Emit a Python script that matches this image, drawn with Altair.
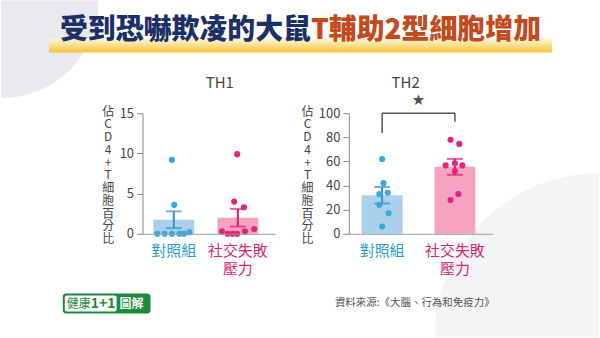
import altair as alt
import pandas as pd

FONT = "Noto Sans CJK TC"

# ---------------- data ----------------
categories = ["對照組", "社交失敗\n壓力"]
panel_titles = ["TH1", "TH2"]
y_title = "佔CD4+T細胞百分比"

th1_ctrl = [9.2, 3.6, 0.0, 0.0, 0.0, 0.0, 0.0, 0.2]
th1_ctrl_dx = [-2, 0.5, -18, -10, -2, 6, 11, 17]
th1_stress = [9.9, 4.0, 3.3, 0.3, 0.0, 0.0, 0.0, 0.3, 0.6]
th1_stress_dx = [-0.7, -4, 6.7, -17.3, -11, -5.7, -0.7, 7.7, 17.7]
th1_mean = [1.75, 2.0]
th1_sem = [1.05, 1.1]
th1_ticks = [0, 5, 10, 15]

th2_ctrl = [62, 42, 33, 34, 24, 17, 6]
th2_ctrl_dx = [0, 1.5, -3, 6, -3, 7, 0]
th2_stress = [78, 74.5, 56.7, 58.4, 56.7, 52, 33, 28]
th2_stress_dx = [-4.7, 4.7, -10, 0, 8, 0, 3.7, -4.7]
th2_mean = [32, 55.5]
th2_sem = [6.8, 6.6]
th2_ticks = [0, 20, 40, 60, 80, 100]

bracket_top = 100
bracket_legs = [83.5, 93]
star_y = 111

title_a = "受到恐嚇欺凌的大鼠"
title_b = "T輔助2型細胞增加"
source_text = "資料來源:《大腦、行為和免疫力》"

# ---------------- styles ----------------
BLUE_DOT = "#3aa8da"
BLUE_BAR = "#a9d1ee"
BLUE_ERR = "#3493c9"
BLUE_TXT = "#2e9bd2"
PINK_DOT = "#e5237b"
PINK_BAR = "#f6a3c1"
PINK_ERR = "#d81f6e"
PINK_TXT = "#d7246f"
GREY = "#454545"
AXIS = "#8a8a8a"
H = 121


def cond(a, b):
    return alt.condition(alt.datum.cat == 0, alt.value(a), alt.value(b))


def make_yax(ticks, ytitle_x):
    return alt.Axis(title=list(y_title), titleAngle=0, titleAlign="center",
                    titleBaseline="top", titleX=ytitle_x, titleY=-7,
                    titleLineHeight=12.8, titleFontSize=12, titleFontWeight="normal",
                    titleColor=GREY, titleFont=FONT, values=ticks, grid=False, zindex=1,
                    tickSize=6, tickColor=AXIS, domainColor=AXIS, labelColor=GREY,
                    labelFontSize=13, labelFont=FONT, labelPadding=3,
                    labelOverlap=False, labelBound=False)


def panel(ctrl, ctrl_dx, stress, stress_dx, means, sems, ymax, ticks,
          width, x0, ppu, title, title_x, ytitle_x):
    xs = alt.Scale(domain=[-x0 / ppu, (width - x0) / ppu], nice=False, zero=False)
    ys = alt.Scale(domain=[0, ymax], nice=False)
    yax = make_yax(ticks, ytitle_x)
    pts = pd.DataFrame({
        "cat": [0] * len(ctrl) + [1] * len(stress),
        "v": ctrl + stress,
        "dx": ctrl_dx + stress_dx,
    })
    pts["xp"] = pts["cat"] + pts["dx"] / ppu
    summ = pd.DataFrame({
        "cat": [0, 1],
        "mean": means,
        "lo": [m - s for m, s in zip(means, sems)],
        "hi": [m + s for m, s in zip(means, sems)],
        "label": categories,
    })
    xax = alt.Axis(title=None, labels=False, ticks=False, grid=False, zindex=1,
                   domainColor="#9a9a9a", domainWidth=1, values=[0, 1])
    X = alt.X("cat:Q", scale=xs, axis=xax)
    bars = alt.Chart(summ).mark_bar(size=41, orient="vertical").encode(
        x=X, y=alt.Y("mean:Q", scale=ys, axis=yax), y2=alt.datum(0),
        color=cond(BLUE_BAR, PINK_BAR))
    err = alt.Chart(summ).mark_rule(strokeWidth=2).encode(
        x=X, y=alt.Y("lo:Q", scale=ys, axis=yax), y2="hi:Q", color=cond(BLUE_ERR, PINK_ERR))
    cap_hi = alt.Chart(summ).mark_tick(orient="horizontal", size=16, thickness=2).encode(
        x=X, y=alt.Y("hi:Q", scale=ys, axis=yax), color=cond(BLUE_ERR, PINK_ERR))
    cap_lo = alt.Chart(summ).mark_tick(orient="horizontal", size=16, thickness=2).encode(
        x=X, y=alt.Y("lo:Q", scale=ys, axis=yax), color=cond(BLUE_ERR, PINK_ERR))
    dots = alt.Chart(pts).mark_circle(size=38, opacity=1).encode(
        x=alt.X("xp:Q", scale=xs, axis=xax), y=alt.Y("v:Q", scale=ys, axis=yax),
        color=cond(BLUE_DOT, PINK_DOT))
    labels = alt.Chart(summ).mark_text(baseline="top", fontSize=15, font=FONT,
                                       lineBreak="\n", lineHeight=18).encode(
        x=X, y=alt.value(H + 10), text="label:N", color=cond(BLUE_TXT, PINK_TXT))
    ttl = alt.Chart(pd.DataFrame({"t": [title]})).mark_text(
        fontSize=15, font=FONT, color=GREY, baseline="middle").encode(
        x=alt.value(title_x), y=alt.value(-30), text="t:N")
    return [bars, err, cap_hi, cap_lo, dots, labels, ttl], X, ys, yax, xs, xax


left_layers, _, _, _, _, _ = panel(
    th1_ctrl, th1_ctrl_dx, th1_stress, th1_stress_dx, th1_mean, th1_sem,
    15, th1_ticks, 133, 28.5, 69.5, panel_titles[0], 77.5, -35)
right_layers, RX, rys, ryax, rxs, rxax = panel(
    th2_ctrl, th2_ctrl_dx, th2_stress, th2_stress_dx, th2_mean, th2_sem,
    100, th2_ticks, 144, 30.5, 78.5, panel_titles[1], 57, -42)

# significance bracket (right panel)
br = pd.DataFrame({"cat": [0, 1], "leg": bracket_legs, "top": [bracket_top] * 2})
bracket_h = alt.Chart(pd.DataFrame({"cat": [0], "b": [1], "top": [bracket_top]})).mark_rule(
    color="#555555", strokeWidth=1.5).encode(
    x=RX, x2="b:Q", y=alt.Y("top:Q", scale=rys, axis=ryax))
bracket_v = alt.Chart(br).mark_rule(color="#555555", strokeWidth=1.5).encode(
    x=RX, y=alt.Y("leg:Q", scale=rys, axis=ryax), y2="top:Q")
star = alt.Chart(pd.DataFrame({"x": [0.5], "y": [star_y], "s": ["★"]})).mark_text(
    fontSize=15, color="#505050", font="DejaVu Sans").encode(
    x=alt.X("x:Q", scale=rxs, axis=rxax), y=alt.Y("y:Q", scale=rys, axis=ryax), text="s:N")

# ---------------- page decorations (left panel origin is page (142,113)) ----------------
one = pd.DataFrame({"a": [0]})
OX, OY = 142, 113
anchor = alt.Chart(one).mark_rect(fill="white").encode(
    x=alt.value(-OX), x2=alt.value(600 - OX), y=alt.value(-OY), y2=alt.value(338 - OY))
deco_tl = alt.Chart(one).mark_arc(radius=98, theta=1.5708, theta2=3.1416, color="#e8eaee").encode(
    x=alt.value(-OX), y=alt.value(-OY))
deco_br = alt.Chart(one).mark_arc(radius=165, theta=4.7124, theta2=6.2832, color="#f3f4f6").encode(
    x=alt.value(600 - OX), y=alt.value(338 - OY))
band = alt.Chart(one).mark_rect(
    fill=alt.Gradient(gradient="linear",
                      stops=[alt.GradientStop(color="#fdf6dc", offset=0),
                             alt.GradientStop(color="#f4c63a", offset=1)],
                      x1=0, x2=0, y1=0, y2=1)).encode(
    x=alt.value(48 - OX), x2=alt.value(553 - OX), y=alt.value(38 - OY), y2=alt.value(52 - OY))
t1 = alt.Chart(pd.DataFrame({"t": [title_a]})).mark_text(
    font=FONT, fontSize=28, fontWeight=900, color="#1c2f66", align="right", baseline="middle").encode(
    x=alt.value(311 - OX), y=alt.value(31 - OY), text="t:N")
t2 = alt.Chart(pd.DataFrame({"t": [title_b]})).mark_text(
    font=FONT, fontSize=28, fontWeight=900, color="#c24a1d", align="left", baseline="middle").encode(
    x=alt.value(311 - OX), y=alt.value(31 - OY), text="t:N")
src = alt.Chart(pd.DataFrame({"t": [source_text]})).mark_text(
    font=FONT, fontSize=10.5, color="#555555", align="left", baseline="middle").encode(
    x=alt.value(335 - OX), y=alt.value(303 - OY), text="t:N")
logo_box = alt.Chart(one).mark_rect(fill="#1e8a3c", cornerRadius=3).encode(
    x=alt.value(62 - OX), x2=alt.value(150 - OX), y=alt.value(294 - OY), y2=alt.value(314 - OY))
logo_in = alt.Chart(one).mark_rect(fill="white", cornerRadius=2).encode(
    x=alt.value(64 - OX), x2=alt.value(116 - OX), y=alt.value(296 - OY), y2=alt.value(312 - OY))
logo_t1 = alt.Chart(pd.DataFrame({"t": ["健康"]})).mark_text(
    font=FONT, fontSize=12, color="#1e8a3c", align="left", baseline="middle").encode(
    x=alt.value(66 - OX), y=alt.value(304 - OY), text="t:N")
logo_t2 = alt.Chart(pd.DataFrame({"t": ["1+1"]})).mark_text(
    font=FONT, fontSize=14, fontWeight="bold", color="#1e8a3c", align="left", baseline="middle").encode(
    x=alt.value(90 - OX), y=alt.value(304 - OY), text="t:N")
logo_t3 = alt.Chart(pd.DataFrame({"t": ["圖解"]})).mark_text(
    font=FONT, fontSize=12, fontWeight="bold", color="white", align="center", baseline="middle").encode(
    x=alt.value(131 - OX), y=alt.value(304 - OY), text="t:N")

left = alt.layer(anchor, deco_tl, deco_br, band, t1, t2, src, logo_box, logo_in,
                 logo_t1, logo_t2, logo_t3, *left_layers).properties(width=133, height=H)
right = alt.layer(*right_layers, bracket_h, bracket_v, star).properties(width=144, height=H)

chart = alt.hconcat(left, right, spacing=74, bounds="flush").properties(
    padding=0, background="white").configure_view(stroke=None).configure_axis(labelOverlap=False)

chart.save("out.html", embed_options={"renderer": "svg", "actions": False})
